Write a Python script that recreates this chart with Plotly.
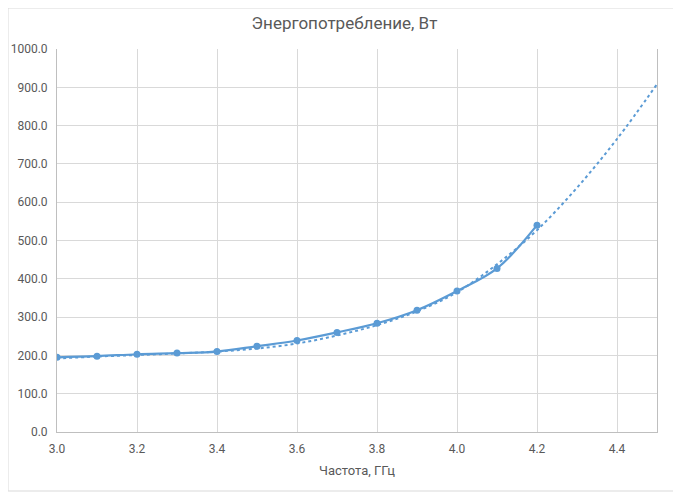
import plotly.graph_objects as go

# measured points
FREQ = [3.0, 3.1, 3.2, 3.3, 3.4, 3.5, 3.6, 3.7, 3.8, 3.9, 4.0, 4.1, 4.2]
POWER = [195, 198, 203, 206, 210, 224, 239, 260, 284, 318, 368, 427, 540]

# trendline
TREND_FREQ = [3.0, 3.1, 3.2, 3.3, 3.4, 3.5, 3.6, 3.7, 3.8, 3.9, 4.0, 4.1, 4.2, 4.3, 4.4, 4.5]
TREND_POWER = [192, 197, 201, 205, 210, 218, 231, 252, 279, 315, 365, 438, 527, 638, 765, 908]

X_TICKS = [3.0, 3.2, 3.4, 3.6, 3.8, 4.0, 4.2, 4.4]

BLUE = "#5B9BD5"
TEXT = "#595959"
GRID = "#D9D9D9"
FONT = "Roboto, Arial, sans-serif"

# the page body adds an 8px offset, so the figure is shrunk to fit
W, H = 673, 484
L, R, T, B = 49, 24, 41, 60
PW, PH = W - L - R, H - T - B

fig = go.Figure()

fig.add_trace(
    go.Scatter(
        x=TREND_FREQ,
        y=TREND_POWER,
        mode="lines",
        line={"color": BLUE, "width": 2, "dash": "dot", "shape": "spline"},
        hoverinfo="skip",
        showlegend=False,
    )
)
fig.add_trace(
    go.Scatter(
        x=FREQ,
        y=POWER,
        mode="lines+markers",
        line={"color": BLUE, "width": 2.2, "shape": "spline"},
        marker={"color": BLUE, "size": 7},
        showlegend=False,
    )
)

fig.update_layout(
    width=W,
    height=H,
    paper_bgcolor="#FFFFFF",
    plot_bgcolor="#FFFFFF",
    margin={"l": L, "r": R, "t": T, "b": B, "autoexpand": False},
    font={"family": FONT, "color": TEXT, "size": 12},
    title={
        "text": "Энергопотребление, Вт",
        "x": 0.5,
        "xanchor": "center",
        "y": 1 - 15 / H,
        "yanchor": "middle",
        "font": {"size": 17, "color": TEXT},
    },
    shapes=[
        {
            "type": "rect",
            "xref": "paper",
            "yref": "paper",
            "x0": -L / PW,
            "x1": (PW + R - 1) / PW,
            "y0": -(B - 1) / PH,
            "y1": (PH + T) / PH,
            "line": {"color": GRID, "width": 1},
            "layer": "below",
        }
    ],
)

fig.update_xaxes(
    range=[3.0, 4.5],
    tickvals=X_TICKS,
    ticktext=[f"{v:.1f}" for v in X_TICKS],
    showgrid=True,
    gridcolor=GRID,
    gridwidth=1,
    zeroline=False,
    showline=True,
    linecolor="#BFBFBF",
    ticks="",
    ticklabelstandoff=6,
    automargin=False,
    tickfont={"size": 12, "color": TEXT},
    title={"text": "Частота, ГГц", "font": {"size": 13, "color": TEXT}, "standoff": 10},
)
fig.update_yaxes(
    range=[0, 1000],
    dtick=100,
    tickformat=".1f",
    showgrid=True,
    gridcolor=GRID,
    gridwidth=1,
    zeroline=False,
    showline=True,
    mirror=True,
    linecolor="#BFBFBF",
    ticks="",
    ticklabelstandoff=6,
    automargin=False,
    tickfont={"size": 12, "color": TEXT},
)

fig.write_html("out.html")
